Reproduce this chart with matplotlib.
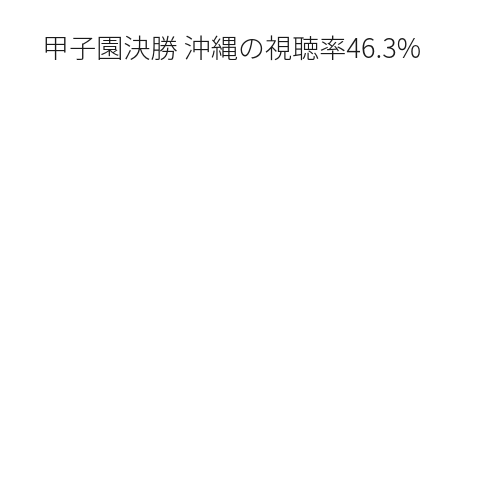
import matplotlib.pyplot as plt

plt.rcParams['font.family'] = ['Noto Sans CJK JP', 'DejaVu Sans']

title = '甲子園決勝 沖縄の視聴率46.3%'

fig = plt.figure(figsize=(5, 5), dpi=100)
fig.patch.set_facecolor('white')
fig.text(0.084, 0.9, title, fontsize=19.5, color='#1a1a1a',
         ha='left', va='center', fontweight='light')
fig.savefig('out.png', dpi=100, facecolor='white')
